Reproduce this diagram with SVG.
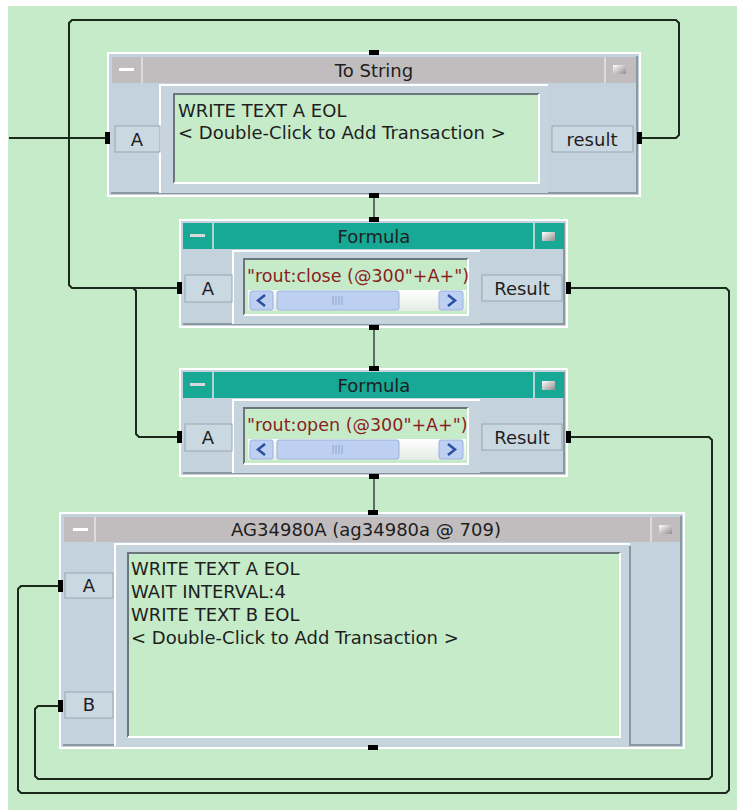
<svg xmlns="http://www.w3.org/2000/svg" width="737" height="811" viewBox="0 0 737 811">
<style>
.body{fill:#c3d2dc}
.hl{stroke:#ffffff;stroke-width:2;fill:none}
.sh{stroke:#8b989f;stroke-width:2;fill:none}
.tgray{fill:#c1bdbf}
.tteal{fill:#17a896}
.btn{fill:#cad8e2;stroke:#98a6b0;stroke-width:1}
.panel{fill:#c6d4de}
.tbox{fill:#c6ebc9}
.inset{stroke:#6a767c;stroke-width:2;fill:none}
.lbl{font-family:"DejaVu Sans",Verdana,sans-serif;font-size:18px;fill:#1e1e1e}
.ttl{font-family:"DejaVu Sans",Verdana,sans-serif;font-size:18px;fill:#1e1e1e;text-anchor:middle}
.mid{text-anchor:middle}
.ftxt{font-family:"DejaVu Sans",Verdana,sans-serif;font-size:17.5px;fill:#8a1f1f}
.wire{fill:none;stroke:#1b291d;stroke-width:2}
.seq{fill:none;stroke:#34443a;stroke-width:1.5}
.tab{fill:#000000}
.sep{stroke:#e6e6e6;stroke-width:1.5}
.sbtn{fill:#bdd0f2;stroke:#9cb1d8;stroke-width:1}
.chev{fill:none;stroke:#2a4f9e;stroke-width:2.5}
.grip{stroke:#8ea3cc;stroke-width:1}
</style>
<defs>
<linearGradient id="track" x1="0" y1="0" x2="0" y2="1">
<stop offset="0" stop-color="#ffffff"/><stop offset="1" stop-color="#e4ece4"/>
</linearGradient>
<linearGradient id="maxg" x1="0" y1="0" x2="1" y2="1">
<stop offset="0" stop-color="#ffffff"/><stop offset="1" stop-color="#8e8e8e"/>
</linearGradient>
<clipPath id="clipF"><rect x="244" y="259" width="224" height="30"/></clipPath>
</defs>
<rect x="0" y="0" width="737" height="811" fill="#c6ebc9"/>
<rect x="0" y="0" width="737" height="6" fill="#ffffff"/>
<rect x="0" y="0" width="8" height="811" fill="#ffffff"/>
<rect x="0" y="810" width="737" height="1" fill="#ffffff"/>

<g id="connectors">
<path class="wire" d="M9,138 H106"/>
<path class="wire" d="M642,138 H676 L679,135 V23 L676,20 H72 L69,23 V285 L72,288 H177"/>
<path class="wire" d="M133,288 L136,291 V434 L139,437 H177"/>
<path class="wire" d="M571,288 H726 L729,291 V790 L726,793 H21 L18,790 V589 L21,586 H58"/>
<path class="wire" d="M571,437 H709 L712,440 V776 L709,779 H38 L35,776 V709 L38,706 H58"/>
<path class="seq" d="M374,198 V217"/>
<path class="seq" d="M374,330 V367"/>
<path class="seq" d="M374,479 V510"/>
</g>

<g id="to-string">
<rect x="108" y="53" width="532" height="143" class="body"/>
<rect x="108" y="53" width="532" height="143" class="hl"/>
<polyline points="637,56 637,193 111,193" class="sh"/>
<rect x="112" y="57" width="524" height="26" class="tgray"/>
<line x1="142" y1="57" x2="142" y2="83" class="sep"/>
<line x1="605" y1="57" x2="605" y2="83" class="sep"/>
<rect x="119" y="68" width="15" height="3" fill="#ffffff"/>
<rect x="613" y="65" width="13" height="9" fill="url(#maxg)"/>
<text x="374" y="77" class="ttl">To String</text>
<rect x="160" y="85" width="388" height="108" class="panel"/>
<polyline points="160,193 160,85 548,85" class="hl"/>
<rect x="174" y="94" width="365" height="89" class="tbox"/>
<polyline points="174,183 174,94 539,94" class="inset"/>
<polyline points="539,94 539,183 174,183" class="hl"/>
<text x="178" y="117" class="lbl">WRITE TEXT A EOL</text>
<text x="178" y="139" class="lbl">&lt; Double-Click to Add Transaction &gt;</text>
<rect x="115" y="126" width="45" height="26" class="btn"/>
<text x="137" y="146" class="lbl mid">A</text>
<rect x="552" y="126" width="81" height="26" class="btn"/>
<text x="592" y="146" class="lbl mid">result</text>
<rect x="105" y="132" width="5" height="12" class="tab"/>
<rect x="637" y="132" width="5" height="12" class="tab"/>
<rect x="369" y="50" width="10" height="5" class="tab"/>
<rect x="369" y="193" width="10" height="5" class="tab"/>
</g>

<g id="formula-close">
<rect x="180" y="220" width="387" height="107" class="body"/>
<rect x="180" y="220" width="387" height="107" class="hl"/>
<polyline points="564,223 564,324 183,324" class="sh"/>
<rect x="183" y="223" width="381" height="26" class="tteal"/>
<line x1="213" y1="223" x2="213" y2="249" class="sep"/>
<line x1="534" y1="223" x2="534" y2="249" class="sep"/>
<rect x="190" y="234" width="15" height="3" fill="#d8d8d8"/>
<rect x="542" y="232" width="13" height="9" fill="url(#maxg)"/>
<text x="374" y="243" class="ttl">Formula</text>
<rect x="233" y="251" width="247" height="73" class="panel"/>
<polyline points="233,324 233,251 480,251" class="hl"/>
<rect x="244" y="259" width="224" height="56" class="tbox"/>
<polyline points="244,315 244,259 468,259" class="inset"/>
<polyline points="468,259 468,315 244,315" class="hl"/>
<text x="247" y="282" class="ftxt" clip-path="url(#clipF)">"rout:close (@300"+A+")</text>
<rect x="248" y="290" width="218" height="21" fill="url(#track)"/>
<rect x="250" y="291" width="23" height="19" rx="2" class="sbtn"/>
<path d="M265,295 L258,300.5 L265,306" class="chev"/>
<rect x="277" y="291" width="122" height="19" rx="2" class="sbtn"/>
<path d="M333,296 V305 M336,296 V305 M339,296 V305 M342,296 V305" class="grip"/>
<rect x="439" y="291" width="24" height="19" rx="2" class="sbtn"/>
<path d="M448,295 L455,300.5 L448,306" class="chev"/>
<rect x="185" y="275" width="47" height="27" class="btn"/>
<text x="208" y="295" class="lbl mid">A</text>
<rect x="482" y="275" width="80" height="26" class="btn"/>
<text x="522" y="295" class="lbl mid">Result</text>
<rect x="177" y="282" width="5" height="12" class="tab"/>
<rect x="566" y="282" width="5" height="12" class="tab"/>
<rect x="369" y="217" width="10" height="5" class="tab"/>
<rect x="369" y="325" width="10" height="5" class="tab"/>
</g>

<g id="formula-open" transform="translate(0,149)">
<rect x="180" y="220" width="387" height="107" class="body"/>
<rect x="180" y="220" width="387" height="107" class="hl"/>
<polyline points="564,223 564,324 183,324" class="sh"/>
<rect x="183" y="223" width="381" height="26" class="tteal"/>
<line x1="213" y1="223" x2="213" y2="249" class="sep"/>
<line x1="534" y1="223" x2="534" y2="249" class="sep"/>
<rect x="190" y="234" width="15" height="3" fill="#d8d8d8"/>
<rect x="542" y="232" width="13" height="9" fill="url(#maxg)"/>
<text x="374" y="243" class="ttl">Formula</text>
<rect x="233" y="251" width="247" height="73" class="panel"/>
<polyline points="233,324 233,251 480,251" class="hl"/>
<rect x="244" y="259" width="224" height="56" class="tbox"/>
<polyline points="244,315 244,259 468,259" class="inset"/>
<polyline points="468,259 468,315 244,315" class="hl"/>
<text x="247" y="282" class="ftxt" clip-path="url(#clipF)">"rout:open (@300"+A+")</text>
<rect x="248" y="290" width="218" height="21" fill="url(#track)"/>
<rect x="250" y="291" width="23" height="19" rx="2" class="sbtn"/>
<path d="M265,295 L258,300.5 L265,306" class="chev"/>
<rect x="277" y="291" width="122" height="19" rx="2" class="sbtn"/>
<path d="M333,296 V305 M336,296 V305 M339,296 V305 M342,296 V305" class="grip"/>
<rect x="439" y="291" width="24" height="19" rx="2" class="sbtn"/>
<path d="M448,295 L455,300.5 L448,306" class="chev"/>
<rect x="185" y="275" width="47" height="27" class="btn"/>
<text x="208" y="295" class="lbl mid">A</text>
<rect x="482" y="275" width="80" height="26" class="btn"/>
<text x="522" y="295" class="lbl mid">Result</text>
<rect x="177" y="282" width="5" height="12" class="tab"/>
<rect x="566" y="282" width="5" height="12" class="tab"/>
<rect x="369" y="217" width="10" height="5" class="tab"/>
<rect x="369" y="325" width="10" height="5" class="tab"/>
</g>

<g id="ag34980a">
<rect x="60" y="513" width="624" height="235" class="body"/>
<rect x="60" y="513" width="624" height="235" class="hl"/>
<polyline points="681,516 681,745 63,745" class="sh"/>
<rect x="64" y="517" width="616" height="25" class="tgray"/>
<line x1="95" y1="517" x2="95" y2="542" class="sep"/>
<line x1="651" y1="517" x2="651" y2="542" class="sep"/>
<rect x="73" y="528" width="15" height="3" fill="#ffffff"/>
<rect x="659" y="525" width="13" height="9" fill="url(#maxg)"/>
<text x="366" y="536" class="ttl">AG34980A (ag34980a @ 709)</text>
<rect x="115" y="544" width="515" height="202" class="panel"/>
<polyline points="115,746 115,544 630,544" class="hl"/>
<polyline points="630,546 630,746" class="sh"/>
<rect x="128" y="553" width="492" height="184" class="tbox"/>
<polyline points="128,737 128,553 620,553" class="inset"/>
<polyline points="620,553 620,737 128,737" class="hl"/>
<text x="131" y="575" class="lbl">WRITE TEXT A EOL</text>
<text x="131" y="598" class="lbl">WAIT INTERVAL:4</text>
<text x="131" y="621" class="lbl">WRITE TEXT B EOL</text>
<text x="131" y="644" class="lbl">&lt; Double-Click to Add Transaction &gt;</text>
<rect x="65" y="573" width="48" height="25" class="btn"/>
<text x="89" y="592" class="lbl mid">A</text>
<rect x="65" y="692" width="48" height="26" class="btn"/>
<text x="89" y="711" class="lbl mid">B</text>
<rect x="58" y="580" width="5" height="12" class="tab"/>
<rect x="58" y="700" width="5" height="12" class="tab"/>
<rect x="368" y="510" width="10" height="5" class="tab"/>
<rect x="368" y="745" width="10" height="5" class="tab"/>
</g>
</svg>
